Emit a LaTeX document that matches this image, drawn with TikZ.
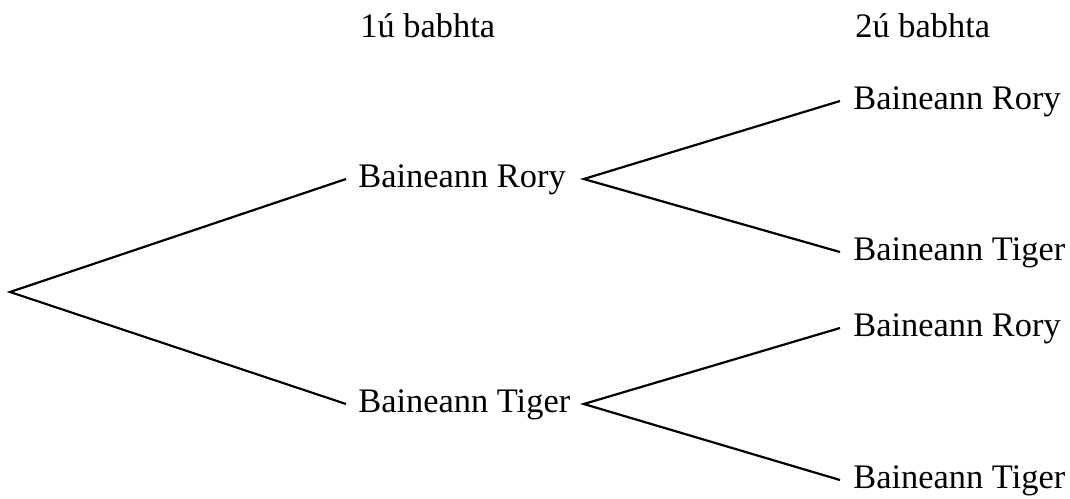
\documentclass[tikz,border=0pt]{standalone}
\usepackage{fontspec}
\setmainfont{Liberation Serif}
\usepackage{tikz}
\usetikzlibrary{positioning}

\begin{document}
\begin{tikzpicture}[x=0.5pt,y=-0.5pt,every node/.style={inner xsep=6pt,inner ysep=0pt,text height=12pt,text depth=3.7pt,font=\fontsize{17.2}{20}\selectfont},
  first/.style={anchor=west},
  second/.style={anchor=west,inner xsep=6.5pt}]
  \useasboundingbox (0,0) rectangle (1070,498);
  \coordinate (0) at (10,292);
  \node[first] (1) at (346,179) {\makebox[106.5pt][l]{Baineann Rory}};
  \node[first] (2) at (346,404) {\makebox[106.5pt][l]{Baineann Tiger}};
  \node[second] (3) at (840,101) {Baineann Rory};
  \node[second] (4) at (840,252) {Baineann Tiger};
  \node[second] (5) at (840,328) {Baineann Rory};
  \node[second] (6) at (840,480) {Baineann Tiger};
  \node[anchor=base west,inner sep=0pt] (h1) at (360,37) {1ú babhta};
  \node[anchor=base west,inner sep=0pt] (h2) at (855,37) {2ú babhta};
  \draw[line width=1.1pt](1.west)--(0)--(2.west);
  \draw[line width=1.1pt](3.west)--(1.east)--(4.west);
  \draw[line width=1.1pt](5.west)--(2.east)--(6.west);
\end{tikzpicture}
\end{document}
